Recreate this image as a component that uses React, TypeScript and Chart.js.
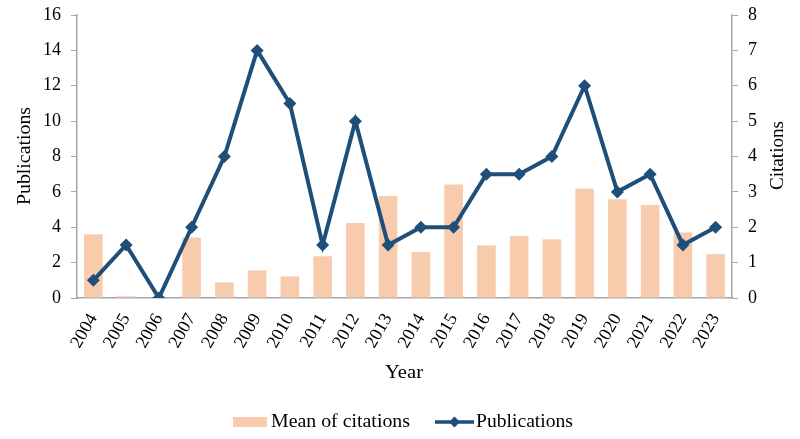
import React, { useEffect, useRef } from "react";
import { Chart, registerables } from "chart.js";

Chart.register(...registerables);

const years = ["2004","2005","2006","2007","2008","2009","2010","2011","2012","2013","2014","2015","2016","2017","2018","2019","2020","2021","2022","2023"];
const publications = [1, 3, 0, 4, 8, 14, 11, 3, 10, 3, 4, 4, 7, 7, 8, 12, 6, 7, 3, 4];
const meanCitations = [1.8, 0.05, 0, 1.71, 0.44, 0.78, 0.61, 1.18, 2.12, 2.88, 1.3, 3.21, 1.49, 1.75, 1.66, 3.09, 2.79, 2.63, 1.85, 1.24];
const leftTicks = [0, 2, 4, 6, 8, 10, 12, 14, 16];
const rightTicks = [0, 1, 2, 3, 4, 5, 6, 7, 8];

const BAR = "#f8cbad";
const LINE = "#1f4e79";
const FONT = "'Liberation Serif', 'Times New Roman', serif";
const AXIS = "#a6a6a6";

function fitText(ctx: any, text: string, x: number, y: number, width: number, rot: number, align: "center" | "left") {
  ctx.save();
  ctx.translate(x, y);
  ctx.rotate(rot);
  const w = ctx.measureText(text).width;
  ctx.scale(width / w, 1);
  ctx.textAlign = align;
  ctx.fillText(text, 0, 0);
  ctx.restore();
}

const overlay = {
  id: "overlay",
  afterDraw(chart: any) {
    const ctx = chart.ctx;
    ctx.save();
    ctx.fillStyle = "#000";
    ctx.font = `18px ${FONT}`;
    ctx.textBaseline = "middle";
    fitText(ctx, "Year", 404, 373, 38, 0, "center");
    fitText(ctx, "Publications", 25, 156, 98, -Math.PI / 2, "center");
    fitText(ctx, "Citations", 778, 155.5, 69, -Math.PI / 2, "center");
    // Legend
    const ly = 422;
    ctx.fillStyle = BAR;
    ctx.fillRect(233, ly - 5, 34, 10);
    ctx.fillStyle = "#000";
    fitText(ctx, "Mean of citations", 271, ly, 139, 0, "left");
    ctx.strokeStyle = LINE;
    ctx.lineWidth = 3.5;
    ctx.beginPath();
    ctx.moveTo(435, ly);
    ctx.lineTo(474, ly);
    ctx.stroke();
    ctx.fillStyle = LINE;
    ctx.beginPath();
    ctx.moveTo(454.5, ly - 5.5);
    ctx.lineTo(460, ly);
    ctx.lineTo(454.5, ly + 5.5);
    ctx.lineTo(449, ly);
    ctx.closePath();
    ctx.fill();
    ctx.fillStyle = "#000";
    fitText(ctx, "Publications", 476, ly, 97, 0, "left");
    ctx.restore();
  },
};

export default function App() {
  const ref = useRef<HTMLCanvasElement | null>(null);
  useEffect(() => {
    document.body.style.margin = "0";
    if (!ref.current) return;
    const chart = new Chart(ref.current, {
      type: "bar",
      data: {
        labels: years,
        datasets: [
          {
            type: "line",
            label: "Publications",
            data: publications,
            yAxisID: "y",
            borderColor: LINE,
            backgroundColor: LINE,
            borderWidth: 4,
            pointStyle: "rectRot",
            pointRadius: 6.5,
            pointBorderWidth: 0,
            pointBackgroundColor: LINE,
            tension: 0,
            order: 0,
          } as any,
          {
            type: "bar",
            label: "Mean of citations",
            data: meanCitations,
            yAxisID: "y1",
            backgroundColor: BAR,
            barPercentage: 0.57,
            categoryPercentage: 1,
            order: 1,
          },
        ],
      },
      options: {
        animation: false,
        responsive: false,
        maintainAspectRatio: false,
        layout: { padding: { top: 15, bottom: 0, left: 0, right: 0 } },
        plugins: { legend: { display: false }, tooltip: { enabled: false } },
        scales: {
          x: {
            offset: true,
            grid: { display: false, drawTicks: false },
            border: { display: true, color: AXIS, width: 1.5 },
            ticks: {
              color: "#000",
              font: { family: FONT, size: 18 },
              minRotation: 60,
              maxRotation: 60,
              padding: 12,
            },
            afterFit(s: any) { s.height = 141; s.paddingLeft = 0; s.paddingRight = 0; },
          },
          y: {
            position: "left",
            min: 0,
            max: 16,
            afterBuildTicks(s: any) { s.ticks = leftTicks.map((v) => ({ value: v })); },
            grid: { display: true, drawOnChartArea: false, tickLength: 6, color: AXIS },
            border: { display: true, color: AXIS, width: 1.5 },
            ticks: { color: "#000", font: { family: FONT, size: 18 }, padding: 10 },
            afterFit(s: any) { s.width = 77; s.paddingTop = 0; s.paddingBottom = 0; },
          },
          y1: {
            position: "right",
            min: 0,
            max: 8,
            afterBuildTicks(s: any) { s.ticks = rightTicks.map((v) => ({ value: v })); },
            grid: { display: true, drawOnChartArea: false, tickLength: 6, color: AXIS },
            border: { display: true, color: AXIS, width: 1.5 },
            ticks: { color: "#000", font: { family: FONT, size: 18 }, padding: 10 },
            afterFit(s: any) { s.width = 68; s.paddingTop = 0; s.paddingBottom = 0; },
          },
        },
      },
      plugins: [overlay],
    });
    return () => chart.destroy();
  }, []);
  return (
    <div style={{ width: 800, height: 439 }}>
      <canvas ref={ref} width={800} height={439} style={{ display: "block", width: 800, height: 439 }} />
    </div>
  );
}
